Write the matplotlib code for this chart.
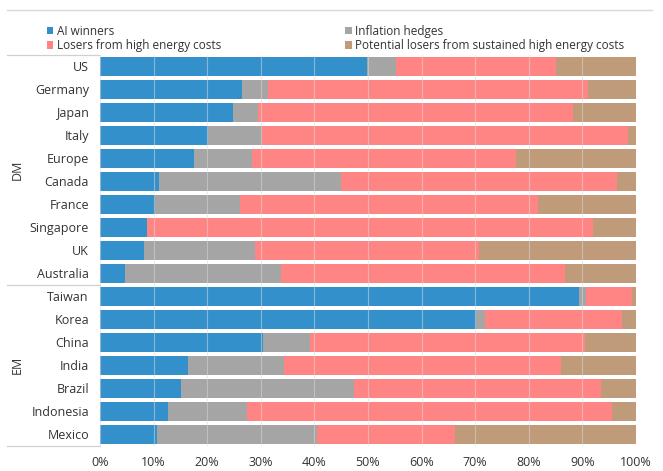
import matplotlib
matplotlib.use("Agg")
import matplotlib.pyplot as plt
from matplotlib.lines import Line2D
from matplotlib.patches import Patch
import numpy as np

plt.rcParams['font.family'] = ['Open Sans', 'DejaVu Sans']

# Markets, top to bottom, with their group
markets = ["US", "Germany", "Japan", "Italy", "Europe", "Canada", "France",
           "Singapore", "UK", "Australia",
           "Taiwan", "Korea", "China", "India", "Brazil", "Indonesia", "Mexico"]
groups = ["DM"] * 10 + ["EM"] * 7

# Share of market cap by theme (%), each row sums to 100
ai_winners = [49.8, 26.4, 24.9, 20.1, 17.5, 11.0, 10.3, 8.7, 8.3, 4.6,
              89.3, 70.1, 30.5, 16.4, 15.1, 12.6, 10.6]
inflation_hedges = [5.5, 5.0, 4.5, 10.2, 10.9, 34.0, 15.8, 0.0, 20.7, 29.2,
                    1.3, 1.8, 8.7, 18.0, 32.3, 14.8, 29.9]
energy_losers = [29.8, 59.6, 58.8, 68.3, 49.2, 51.4, 55.7, 83.2, 41.8, 53.0,
                 8.6, 25.4, 51.3, 51.6, 46.0, 68.2, 25.8]
potential_losers = [round(100 - a - b - c, 1) for a, b, c in
                    zip(ai_winners, inflation_hedges, energy_losers)]

series = [
    ("AI winners", ai_winners, "#3490cb"),
    ("Inflation hedges", inflation_hedges, "#a5a5a5"),
    ("Losers from high energy costs", energy_losers, "#ff8585"),
    ("Potential losers from sustained high energy costs", potential_losers, "#bf9b7a"),
]

W, H = 663, 471
fig = plt.figure(figsize=(W / 100, H / 100), dpi=100)
ax = fig.add_axes([100 / W, 1 - 445.8 / H, 536 / W, (445.8 - 54.8) / H])

y = np.arange(len(markets))
left = np.zeros(len(markets))
for name, vals, col in series:
    v = np.array(vals)
    ax.barh(y, v, left=left, height=0.83, color=col, label=name, zorder=2)
    left += v

ax.set_xlim(0, 100)
ax.set_ylim(len(markets) - 0.5, -0.5)
ax.set_yticks(y)
ax.set_yticklabels(markets)
xt = np.arange(0, 101, 10)
ax.set_xticks(xt)
ax.set_xticklabels([f"{t}%" for t in xt])
ax.tick_params(axis='both', length=0, labelsize=9, colors="#333333")
ax.tick_params(axis='y', pad=8)
ax.tick_params(axis='x', pad=7)
for s in ax.spines.values():
    s.set_visible(False)

# faint vertical gridlines across the bars
for t in xt:
    ax.axvline(t, color="#dcdcdc", lw=0.8, alpha=0.5, zorder=3)

# group separators and group labels on the left
sep_color = "#d0d0d0"
for yy in [-0.5, 9.5, len(markets) - 0.5]:
    ax.add_line(Line2D([-93 / 5.36, 0], [yy, yy], color=sep_color, lw=0.9,
                       clip_on=False, transform=ax.transData))
for g in ["DM", "EM"]:
    idx = [i for i, gg in enumerate(groups) if gg == g]
    ax.text(-83 / 5.36, (idx[0] + idx[-1]) / 2, g, rotation=90, ha='center',
            va='center', fontsize=9, color="#333333", clip_on=False)

# top rule
fig.add_artist(Line2D([7 / W, 652 / W], [1 - 10 / H, 1 - 10 / H],
                      color="#d9d9d9", lw=1.0))

# legend laid out in rows: (AI, Inflation) / (Losers, Potential)
order = [0, 2, 1, 3]
handles = [Patch(facecolor=series[i][2], edgecolor='none') for i in order]
labels = [series[i][0] for i in order]
leg = fig.legend(handles, labels, ncol=2, loc='upper left',
                 bbox_to_anchor=(47 / W, 1 - 25 / H), frameon=False,
                 fontsize=8.5, handlelength=0.55, handleheight=0.55,
                 handletextpad=0.3, columnspacing=10.5, labelspacing=0.1,
                 borderaxespad=0, borderpad=0)
for t in leg.get_texts():
    t.set_color("#333333")

fig.savefig("out.png", dpi=100)
